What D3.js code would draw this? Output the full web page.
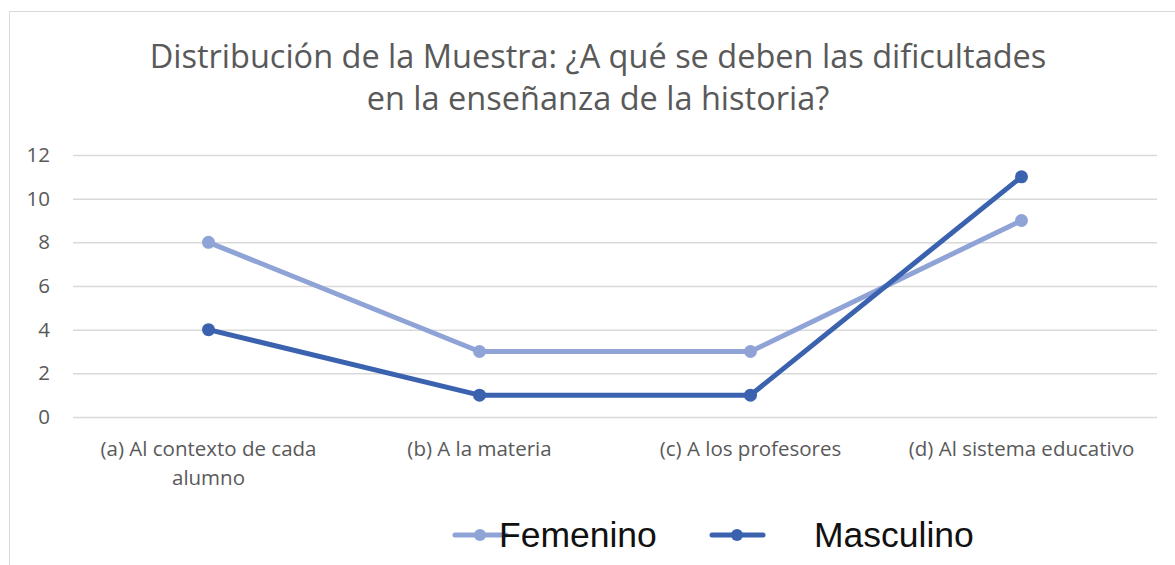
<!DOCTYPE html>
<html>
<head>
<meta charset="utf-8">
<script src="https://cdn.jsdelivr.net/npm/d3@7"></script>
<style>
  html, body { margin: 0; padding: 0; background: #fff; }
</style>
</head>
<body>
<div id="chart"></div>
<script>
// data
const categories = [
    ['(a) Al contexto de cada', 'alumno'],
    ['(b) A la materia'],
    ['(c) A los profesores'],
    ['(d) Al sistema educativo'],
];
const seriesNames = ['Femenino', 'Masculino'];
const femenino = [8, 3, 3, 9];
const masculino = [4, 1, 1, 11];
const yTicks = [0, 2, 4, 6, 8, 10, 12];
const titleLines = [
    'Distribución de la Muestra: ¿A qué se deben las dificultades',
    'en la enseñanza de la historia?',
];

const width = 1175;
const height = 565;
const marginLeft = 73;
const marginRight = 18;
const plotTop = 155;
const plotBottom = 417;
const colors = ['#8FA3D6', '#3A62AF'];
const textColor = '#595959';
const labelFont = "Open Sans, 'Noto Sans', sans-serif";

const svg = d3
    .select('#chart')
    .append('svg')
    .attr('width', width)
    .attr('height', height)
    .attr('viewBox', [0, 0, width, height]);

// chart frame (top and left edges visible)
svg.append('path')
    .attr('d', `M9.5,${height} V11.5 H${width}`)
    .attr('fill', 'none')
    .attr('stroke', '#d9d9d9')
    .attr('stroke-width', 1);

// TITLE
svg.append('g')
    .attr('font-family', labelFont)
    .attr('font-size', 32.5)
    .attr('fill', textColor)
    .attr('text-anchor', 'middle')
    .selectAll('text')
    .data(titleLines)
    .join('text')
    .attr('x', 598)
    .attr('y', (d, i) => 68 + i * 42)
    .text((d) => d);

// scales
const x = d3
    .scaleBand()
    .domain(d3.range(categories.length))
    .range([marginLeft, width - marginRight]);
const y = d3.scaleLinear().domain([0, 12]).range([plotBottom, plotTop]);

// GRIDLINES + Y LABELS
svg.append('g')
    .attr('transform', `translate(${marginLeft},0)`)
    .call(d3.axisLeft(y).tickValues(yTicks).tickSize(-(width - marginLeft - marginRight)).tickPadding(23))
    .call((g) => g.select('.domain').remove())
    .call((g) => g.selectAll('.tick line').attr('stroke', '#d9d9d9').attr('stroke-width', 1.5))
    .call((g) =>
        g
            .selectAll('.tick text')
            .attr('font-family', labelFont)
            .attr('font-size', 20.5)
            .attr('fill', textColor)
    );

// X LABELS
const xLabels = svg
    .append('g')
    .attr('font-family', labelFont)
    .attr('font-size', 20.5)
    .attr('fill', textColor)
    .attr('text-anchor', 'middle')
    .selectAll('text')
    .data(categories)
    .join('text')
    .attr('x', (d, i) => x(i) + x.bandwidth() / 2)
    .attr('y', 456);

xLabels
    .selectAll('tspan')
    .data((d) => d)
    .join('tspan')
    .attr('x', function () {
        return this.parentNode.getAttribute('x');
    })
    .attr('dy', (d, i) => (i === 0 ? 0 : 29))
    .text((d) => d);

// LINES
const series = [femenino, masculino];
const line = d3
    .line()
    .x((d, i) => x(i) + x.bandwidth() / 2)
    .y((d) => y(d));

series.forEach((values, s) => {
    svg.append('path')
        .datum(values)
        .attr('fill', 'none')
        .attr('stroke', colors[s])
        .attr('stroke-width', 5)
        .attr('stroke-linejoin', 'round')
        .attr('d', line);

    svg.append('g')
        .selectAll('circle')
        .data(values)
        .join('circle')
        .attr('cx', (d, i) => x(i) + x.bandwidth() / 2)
        .attr('cy', (d) => y(d))
        .attr('r', 6.5)
        .attr('fill', colors[s]);
});

// LEGEND
const legendX = [455, 712];
const legendTextX = [499, 814];
const legend = svg
    .append('g')
    .selectAll('g')
    .data(seriesNames)
    .join('g')
    .attr('transform', (d, i) => `translate(${legendX[i]},535)`);

legend
    .append('line')
    .attr('x1', 0)
    .attr('x2', 51)
    .attr('stroke', (d, i) => colors[i])
    .attr('stroke-width', 5)
    .attr('stroke-linecap', 'round');

legend
    .append('circle')
    .attr('cx', 25)
    .attr('r', 6)
    .attr('fill', (d, i) => colors[i]);

legend
    .append('text')
    .attr('x', (d, i) => legendTextX[i] - legendX[i])
    .attr('dy', '0.35em')
    .attr('font-family', "'Liberation Sans', Arial, sans-serif")
    .attr('font-size', 35.5)
    .attr('fill', '#111')
    .text((d) => d);
</script>
</body>
</html>
